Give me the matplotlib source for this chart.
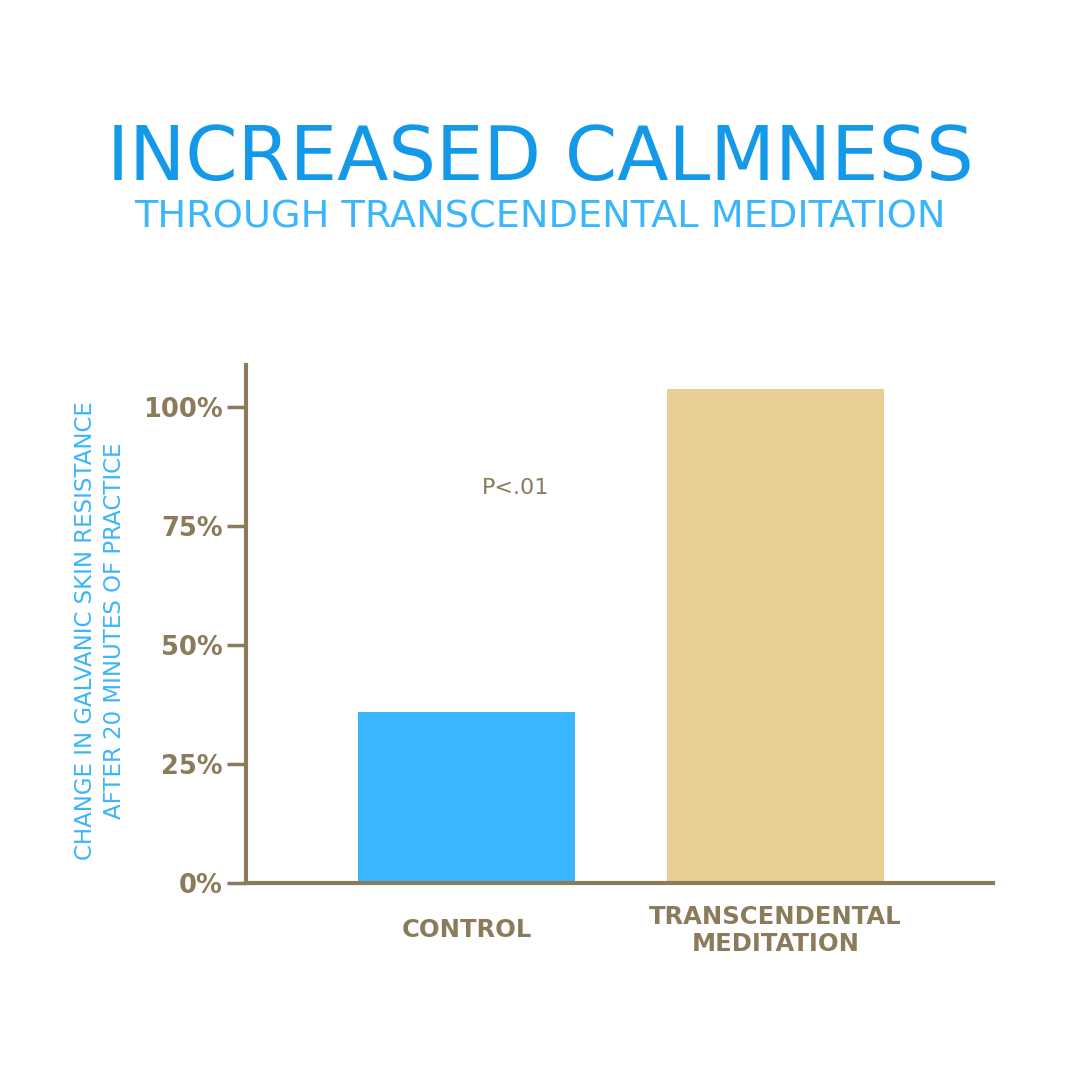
import matplotlib.pyplot as plt
import numpy as np

# Data
categories = ["CONTROL", "TRANSCENDENTAL\nMEDITATION"]
values = [35.9, 103.8]
bar_colors = ["#38b6ff", "#e8cd95"]
y_ticks = [0, 25, 50, 75, 100]
y_tick_labels = ["0%", "25%", "50%", "75%", "100%"]

axis_color = "#8b7b5b"
title_color = "#1399e8"
sub_color = "#3bb5fc"

plt.rcParams['font.family'] = ['DejaVu Sans']

fig = plt.figure(figsize=(10.8, 10.8), dpi=100)
ax = fig.add_axes([0.2278, 0.1824, 0.6916, 0.4796])

x = np.arange(len(categories))
ax.bar(x, values, width=0.702, color=bar_colors, zorder=2)

ax.set_xlim(-0.714, 1.704)
ax.set_ylim(0, 108.8)
ax.set_yticks(y_ticks)
ax.set_yticklabels(y_tick_labels, fontsize=18.5, fontweight='bold', color=axis_color)
ax.set_xticks(x)
ax.set_xticklabels(categories, fontsize=17.5, fontweight='semibold', color=axis_color,
                   linespacing=1.15)
for lbl in ax.get_xticklabels():
    lbl.set_va('center')
ax.tick_params(axis='y', length=14, width=2.5, color=axis_color, pad=3)
ax.tick_params(axis='x', length=0, pad=34)

for side in ['top', 'right']:
    ax.spines[side].set_visible(False)
for side in ['left', 'bottom']:
    ax.spines[side].set_color(axis_color)
    ax.spines[side].set_linewidth(3)

ax.text(0.16, 83, "P<.01", ha='center', va='center', fontsize=16, color=axis_color)

fig.text(100 / 1080, 1 - 631 / 1080,
         "CHANGE IN GALVANIC SKIN RESISTANCE\nAFTER 20 MINUTES OF PRACTICE",
         rotation=90, ha='center', va='center', fontsize=16.5, color=sub_color,
         linespacing=1.3)

fig.text(0.5, 0.852, "INCREASED CALMNESS", ha='center', va='center',
         fontsize=54, color=title_color)
fig.text(0.5, 0.799, "THROUGH TRANSCENDENTAL MEDITATION", ha='center', va='center',
         fontsize=27.5, color=sub_color)

fig.savefig("out.png", dpi=100, facecolor='white')
